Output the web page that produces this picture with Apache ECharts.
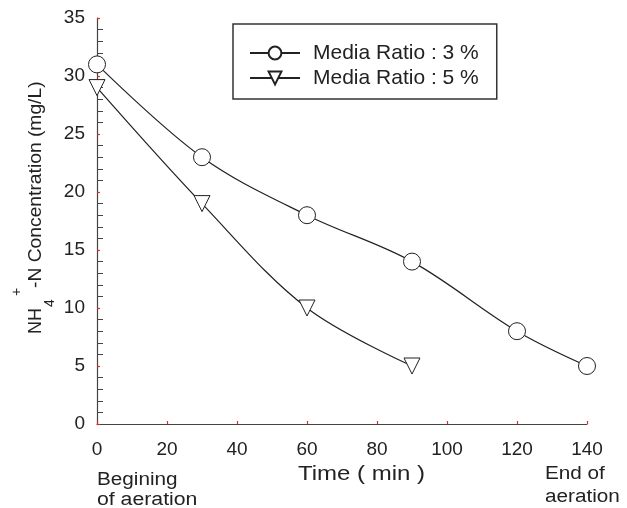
<!DOCTYPE html>
<html>
<head>
<meta charset="utf-8">
<script src="https://cdn.jsdelivr.net/npm/echarts@6/dist/echarts.min.js"></script>
<style>
html,body{margin:0;padding:0;background:#fff;}
#c{width:627px;height:508px;}
</style>
</head>
<body>
<div id="c"></div>
<script>
// Data
var seriesNames = ['Media Ratio : 3 %', 'Media Ratio : 5 %'];
var timeA = [0, 30, 60, 90, 120, 140];
var concA = [31, 23, 18, 14, 8, 5];
var timeB = [0, 30, 60, 90];
var concB = [29, 19, 10, 5];
var xTicks = [0, 20, 40, 60, 80, 100, 120, 140];
var yTicks = [0, 5, 10, 15, 20, 25, 30, 35];

var FONT = '"Liberation Sans", Arial, sans-serif';
function pairs(xs, ys) { return xs.map(function (x, i) { return [x, ys[i]]; }); }

var chart = echarts.init(document.getElementById('c'));
chart.setOption({
  animation: false,
  backgroundColor: '#fff',
  grid: { left: 97, right: 40, top: 18, bottom: 84 },
  xAxis: {
    type: 'value', min: xTicks[0], max: xTicks[xTicks.length - 1], interval: 20,
    splitLine: { show: false },
    axisLine: { lineStyle: { color: '#444', width: 1.2 } },
    axisTick: { inside: true, length: 3, lineStyle: { color: '#d03030', width: 1.2 } },
    axisLabel: { color: '#222', fontSize: 19, fontFamily: FONT, margin: 16 }
  },
  yAxis: {
    type: 'value', min: yTicks[0], max: yTicks[yTicks.length - 1], interval: 5,
    splitLine: { show: false },
    axisLine: { show: true, lineStyle: { color: '#444', width: 1.2 } },
    axisTick: { show: true, inside: true, length: 3, lineStyle: { color: '#d03030', width: 1.2 } },
    minorTick: { show: true, splitNumber: 5, length: 6, lineStyle: { color: '#444', width: 1 } },
    axisLabel: { color: '#222', fontSize: 19, fontFamily: FONT, margin: 12 }
  },
  legend: {
    orient: 'vertical', left: 233, top: 24,
    data: seriesNames,
    borderColor: '#333', borderWidth: 1.5,
    padding: [18, 18, 10, 16],
    itemWidth: 50, itemHeight: 16, itemGap: 3,
    textStyle: { color: '#222', fontSize: 21, fontFamily: FONT, lineHeight: 22, padding: [0, 0, 0, 8] }
  },
  series: [
    {
      name: seriesNames[0], type: 'line', data: pairs(timeA, concA), smooth: 0.35,
      symbol: 'circle', symbolSize: 17,
      lineStyle: { color: '#222', width: 1.2 },
      itemStyle: { color: '#fff', borderColor: '#222', borderWidth: 1 }
    },
    {
      name: seriesNames[1], type: 'line', data: pairs(timeB, concB), smooth: 0.35,
      symbol: 'triangle', symbolSize: 16, symbolRotate: 180,
      lineStyle: { color: '#222', width: 1.2 },
      itemStyle: { color: '#fff', borderColor: '#222', borderWidth: 1 }
    }
  ],
  graphic: [
    { type: 'text', x: 36, y: 334, rotation: Math.PI / 2,
      style: { text: 'NH', font: '18px ' + FONT, fill: '#222', textAlign: 'left', textVerticalAlign: 'middle' } },
    { type: 'text', x: 50, y: 307, rotation: Math.PI / 2,
      style: { text: '4', font: '14px ' + FONT, fill: '#222', textAlign: 'left', textVerticalAlign: 'middle' } },
    { type: 'text', x: 17, y: 296, rotation: Math.PI / 2,
      style: { text: '+', font: '14px ' + FONT, fill: '#222', textAlign: 'left', textVerticalAlign: 'middle' } },
    { type: 'text', x: 36, y: 288, rotation: Math.PI / 2, scaleX: 1.07,
      style: { text: '-N Concentration (mg/L)', font: '18px ' + FONT, fill: '#222', textAlign: 'left', textVerticalAlign: 'middle' } },
    { type: 'text', x: 298, y: 474, scaleX: 1.2,
      style: { text: 'Time ( min )', font: '20px ' + FONT, fill: '#222', textAlign: 'left', textVerticalAlign: 'middle' } },
    { type: 'text', x: 97, y: 480, scaleX: 1.15,
      style: { text: 'Begining', font: '18px ' + FONT, fill: '#222', textAlign: 'left', textVerticalAlign: 'middle' } },
    { type: 'text', x: 97, y: 500, scaleX: 1.18,
      style: { text: 'of aeration', font: '18px ' + FONT, fill: '#222', textAlign: 'left', textVerticalAlign: 'middle' } },
    { type: 'text', x: 545, y: 474, scaleX: 1.15,
      style: { text: 'End of', font: '18px ' + FONT, fill: '#222', textAlign: 'left', textVerticalAlign: 'middle' } },
    { type: 'text', x: 545, y: 497, scaleX: 1.15,
      style: { text: 'aeration', font: '18px ' + FONT, fill: '#222', textAlign: 'left', textVerticalAlign: 'middle' } }
  ]
});
</script>
</body>
</html>
